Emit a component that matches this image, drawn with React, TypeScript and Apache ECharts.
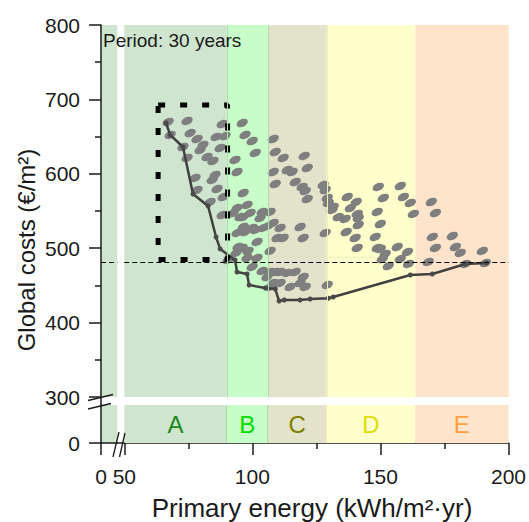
import React, { useEffect, useRef } from 'react';
import * as echarts from 'echarts';

// ---------- data ----------
const bandEdges = [50, 90, 106, 129, 163.6, 200];
const bandLabels = ['A', 'B', 'C', 'D', 'E'];
const bandColors = ['#cfe5cf', '#c8fcc8', '#e3e3cb', '#ffffcc', '#ffe4cc'];
const bandLabelColors = ['#1a8a1a', '#00dd00', '#808000', '#dede00', '#ffa040'];
const bandEdgeColors = ['#a3e2a3', '#a3e2a3', '#efefb0'];

const referenceCost = 481.5;
const boxEnergy = [63.2, 90.3];
const boxCost = [484.8, 692.5];

const paretoEnergy = [66.3, 67.9, 72.9, 76.8, 82.7, 85.8, 87.4, 93.2, 94.0, 97.9, 98.7, 105.0, 108.9, 110.4, 112.4, 118.6, 122.5, 129.6, 131.5, 161.6, 170.2, 183.1, 191.3];
const paretoCost = [668.3, 652.2, 636.0, 572.8, 556.7, 515.0, 499.0, 484.1, 468.0, 465.3, 450.5, 446.5, 445.2, 429.0, 430.4, 430.4, 431.7, 432.7, 434.4, 464.0, 465.3, 478.8, 480.1];

const solutions: [number, number][] = [
  // class A
  [67.1, 669.6], [74.5, 671.0], [88.2, 666.9], [75.7, 654.8], [78.4, 646.8], [85.8, 649.5], [89.3, 650.8],
  [80.7, 638.7], [79.6, 632.0], [87.4, 634.7], [82.3, 622.6], [74.5, 621.3], [84.6, 617.2], [85.4, 598.4],
  [84.3, 591.7], [78.4, 578.2], [86.2, 579.6], [88.6, 568.8], [83.5, 562.1], [88.2, 544.6], [77.6, 594.4],
  [67.9, 652.2], [72.9, 636.0],
  // class B
  [96.0, 668.3], [97.1, 652.2], [99.9, 644.1], [101.1, 628.0], [93.2, 618.6], [94.0, 602.4], [96.4, 574.2],
  [97.9, 558.1], [94.0, 554.0], [96.4, 541.9], [99.1, 547.3], [103.0, 540.6], [103.8, 548.7], [92.5, 547.3],
  [95.2, 541.9], [99.9, 527.2], [96.4, 528.5], [104.2, 527.2], [94.0, 520.5], [97.1, 521.8], [101.1, 524.5],
  [101.8, 508.4], [96.0, 500.3], [98.3, 496.3], [94.4, 501.6], [97.9, 486.8], [101.8, 486.8], [99.9, 474.8],
  [103.8, 469.4], [90.5, 484.2], [93.6, 493.6],
  // class C
  [108.1, 646.8], [108.9, 629.3], [112.0, 621.3], [120.2, 624.0], [121.4, 607.8], [108.1, 602.4], [108.9, 586.3],
  [113.6, 605.1], [115.5, 602.4], [116.7, 589.0], [119.4, 582.3], [120.6, 576.9], [127.6, 585.0], [128.4, 578.2],
  [121.4, 566.1], [129.2, 567.5], [129.6, 560.8], [106.9, 548.7], [106.1, 529.9], [108.1, 533.9], [110.8, 527.2],
  [118.6, 528.5], [119.8, 513.7], [128.4, 520.5], [109.6, 513.7], [112.0, 513.7], [106.9, 496.3], [106.9, 468.0],
  [108.9, 468.0], [110.8, 468.0], [105.7, 461.3], [113.6, 466.7], [116.7, 468.0], [119.8, 461.3], [108.1, 453.2],
  [110.8, 453.2], [114.7, 447.9], [118.6, 453.2], [120.6, 447.9], [129.2, 450.6], [106.9, 447.9],
  // class D
  [131.5, 555.4], [137.0, 568.8], [140.5, 562.1], [138.2, 554.0], [140.9, 546.0], [141.3, 540.6], [133.5, 541.9],
  [136.2, 539.3], [131.1, 551.4], [149.1, 582.3], [148.7, 548.7], [136.6, 521.8], [141.3, 531.2], [140.1, 513.7],
  [140.9, 500.3], [147.9, 515.1], [148.7, 500.3], [157.7, 583.6], [151.1, 567.5], [158.9, 568.8], [161.6, 560.8],
  [162.8, 546.0], [149.9, 532.5], [149.9, 499.0], [156.5, 501.6], [160.5, 494.9], [151.8, 492.2], [150.7, 485.5],
  [157.7, 485.5], [160.9, 478.8], [153.0, 476.1],
  // class E
  [169.8, 562.1], [171.4, 547.3], [170.2, 515.1], [178.0, 516.4], [171.4, 500.3], [179.2, 501.6], [181.1, 493.6],
  [168.6, 481.5], [189.7, 496.3], [190.9, 480.1], [183.1, 478.8],
];

// ---------- layout ----------
const FONT = '"Liberation Sans", Arial, sans-serif';
const AX_LEFT = 101;
const STRIP_W = 16.3;
const MAIN_LEFT = 124.3;
const MAIN_W = 384.4;
const TOP = 25;
const TOP_H = 372;
const BOT_TOP = 405;
const BOT_H = 38;
const AXIS_Y = BOT_TOP + BOT_H;
const INK = '#1a1a1a';
const TICK_FONT = 21;

const bandAreas = (withLabels: boolean) =>
  bandLabels.map((name, i) => [
    {
      name,
      xAxis: bandEdges[i],
      itemStyle: { color: bandColors[i] },
      label: withLabels
        ? { show: true, position: 'inside', color: bandLabelColors[i], fontSize: 24, fontFamily: FONT }
        : { show: false },
    },
    { xAxis: bandEdges[i + 1] },
  ]);

const bandEdgeLines = () =>
  bandEdgeColors.map((c, i) => ({ xAxis: bandEdges[i + 1], lineStyle: { color: c, width: 1, type: 'solid' } }));

const axisLineStyle = { color: INK, width: 1.5 };

export default function App() {
  const ref = useRef<HTMLDivElement>(null);
  useEffect(() => {
    if (!ref.current) return;
    const chart = echarts.init(ref.current, null, { renderer: 'svg' });
    const stripMax = STRIP_W / (MAIN_W / (bandEdges[5] - bandEdges[0]));
    const botMax = BOT_H / (TOP_H / 500);
    const edgeMarkLine = {
      silent: true, symbol: 'none', label: { show: false }, data: bandEdgeLines(),
    };
    const option: any = {
      animation: false,
      textStyle: { fontFamily: FONT },
      grid: [
        { left: MAIN_LEFT, top: TOP, width: MAIN_W, height: TOP_H },
        { left: AX_LEFT, top: TOP, width: STRIP_W, height: TOP_H, show: true, backgroundColor: bandColors[0], borderWidth: 0 },
        { left: MAIN_LEFT, top: BOT_TOP, width: MAIN_W, height: BOT_H },
        { left: AX_LEFT, top: BOT_TOP, width: STRIP_W, height: BOT_H, show: true, backgroundColor: bandColors[0], borderWidth: 0 },
      ],
      xAxis: [
        { gridIndex: 0, type: 'value', min: 50, max: 200, show: false },
        { gridIndex: 1, type: 'value', min: 0, max: stripMax, show: false },
        {
          gridIndex: 2, type: 'value', min: 50, max: 200, interval: 50,
          axisLine: { show: true, lineStyle: axisLineStyle },
          axisTick: { show: true, length: 12, lineStyle: axisLineStyle },
          minorTick: { show: true, splitNumber: 2, length: 6, lineStyle: axisLineStyle },
          axisLabel: { fontSize: TICK_FONT, color: INK, margin: 23, fontFamily: FONT },
          splitLine: { show: false },
        },
        {
          gridIndex: 3, type: 'value', min: 0, max: stripMax,
          axisLine: { show: true, lineStyle: axisLineStyle },
          axisTick: { show: true, length: 12, lineStyle: axisLineStyle, customValues: [0] },
          axisLabel: { fontSize: TICK_FONT, color: INK, margin: 23, fontFamily: FONT, customValues: [0] },
          splitLine: { show: false },
        },
      ],
      yAxis: [
        { gridIndex: 0, type: 'value', min: 300, max: 800, show: false },
        {
          gridIndex: 1, type: 'value', min: 300, max: 800, interval: 100,
          axisLine: { show: true, lineStyle: axisLineStyle },
          axisTick: { show: true, length: 12, lineStyle: axisLineStyle },
          minorTick: { show: true, splitNumber: 2, length: 6, lineStyle: axisLineStyle },
          axisLabel: { fontSize: TICK_FONT, color: INK, margin: 21, fontFamily: FONT },
          splitLine: { show: false },
        },
        { gridIndex: 2, type: 'value', min: 0, max: botMax, show: false },
        {
          gridIndex: 3, type: 'value', min: 0, max: botMax,
          axisLine: { show: true, lineStyle: axisLineStyle },
          axisTick: { show: true, length: 12, lineStyle: axisLineStyle, customValues: [0] },
          axisLabel: { fontSize: TICK_FONT, color: INK, margin: 21, fontFamily: FONT, customValues: [0] },
          splitLine: { show: false },
        },
      ],
      series: [
        {
          type: 'line', xAxisIndex: 0, yAxisIndex: 0, data: [], z: 1, silent: true,
          markArea: { silent: true, data: bandAreas(false) },
          markLine: edgeMarkLine,
        },
        {
          type: 'line', xAxisIndex: 2, yAxisIndex: 2, data: [], z: 1, silent: true,
          markArea: { silent: true, data: bandAreas(true) },
          markLine: edgeMarkLine,
        },
        {
          type: 'scatter', xAxisIndex: 0, yAxisIndex: 0, z: 2, silent: true,
          data: solutions,
          symbol: 'circle', symbolSize: [12, 7.5], symbolRotate: 25,
          itemStyle: { color: '#7f7f7f', opacity: 1 },
        },
        {
          type: 'line', xAxisIndex: 0, yAxisIndex: 0, z: 3, silent: true,
          data: paretoEnergy.map((e, i) => [e, paretoCost[i]]),
          symbol: 'circle', symbolSize: 5, showSymbol: true,
          itemStyle: { color: '#4a4a4a' },
          lineStyle: { color: '#404040', width: 2.5 },
        },
        {
          type: 'line', xAxisIndex: 0, yAxisIndex: 0, z: 4, silent: true,
          data: [
            [boxEnergy[0], boxCost[1]], [boxEnergy[1], boxCost[1]], [boxEnergy[1], boxCost[0]],
            [boxEnergy[0], boxCost[0]], [boxEnergy[0], boxCost[1]],
          ],
          symbol: 'none',
          lineStyle: { color: '#000', width: 5, type: [7, 15], cap: 'butt' },
        },
        {
          type: 'line', xAxisIndex: 0, yAxisIndex: 0, data: [], z: 3, silent: true,
          markLine: {
            silent: true, symbol: 'none', label: { show: false },
            lineStyle: { color: '#000', width: 1, type: [5, 3] },
            data: [{ yAxis: referenceCost }],
          },
        },
        {
          type: 'line', xAxisIndex: 1, yAxisIndex: 1, data: [], z: 3, silent: true,
          markLine: {
            silent: true, symbol: 'none', label: { show: false },
            lineStyle: { color: '#000', width: 1, type: [5, 3] },
            data: [{ yAxis: referenceCost }],
          },
        },
      ],
      graphic: [
        { type: 'line', z: 100, shape: { x1: AX_LEFT, y1: TOP + TOP_H, x2: AX_LEFT, y2: BOT_TOP }, style: { stroke: INK, lineWidth: 1.5 } },
        { type: 'line', z: 100, shape: { x1: AX_LEFT + STRIP_W, y1: AXIS_Y, x2: MAIN_LEFT, y2: AXIS_Y }, style: { stroke: INK, lineWidth: 1.5 } },
        { type: 'line', z: 100, shape: { x1: 88, y1: 400.5, x2: 113, y2: 394.5 }, style: { stroke: INK, lineWidth: 1.3 } },
        { type: 'line', z: 100, shape: { x1: 88, y1: 409, x2: 111, y2: 403.5 }, style: { stroke: INK, lineWidth: 1.3 } },
        { type: 'line', z: 100, shape: { x1: 113, y1: 457, x2: 119, y2: 432 }, style: { stroke: INK, lineWidth: 1.3 } },
        { type: 'line', z: 100, shape: { x1: 119.5, y1: 457, x2: 125, y2: 433 }, style: { stroke: INK, lineWidth: 1.3 } },
        {
          type: 'text', z: 100, x: 103, y: 40,
          style: { text: 'Period: 30 years', font: `19px ${FONT}`, fill: INK, verticalAlign: 'middle' },
        },
        {
          type: 'text', z: 100, x: 26, y: 250, rotation: Math.PI / 2,
          style: { text: 'Global costs (€/m²)', font: `24px ${FONT}`, fill: INK, align: 'center', verticalAlign: 'middle' },
        },
        {
          type: 'text', z: 100, x: 312, y: 508,
          style: { text: 'Primary energy (kWh/m²·yr)', font: `26px ${FONT}`, fill: INK, align: 'center', verticalAlign: 'middle' },
        },
      ],
    };
    chart.setOption(option);
    return () => chart.dispose();
  }, []);
  return <div ref={ref} style={{ position: 'absolute', left: 0, top: 0, width: 529, height: 522 }} />;
}
